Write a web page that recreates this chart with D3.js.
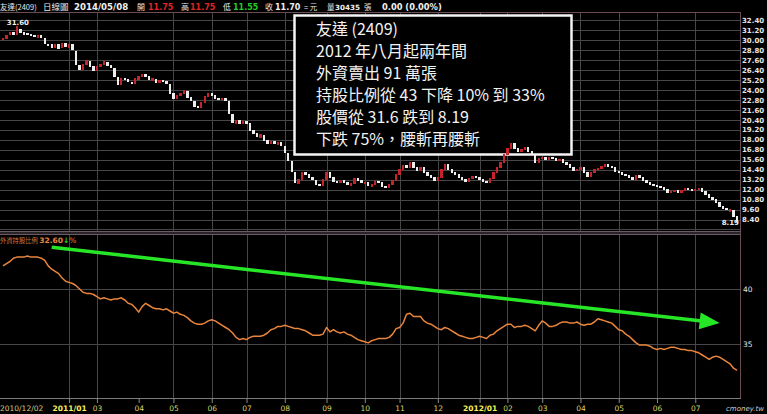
<!DOCTYPE html>
<html><head><meta charset="utf-8">
<script src="https://cdn.jsdelivr.net/npm/d3@7"></script>
<style>body{margin:0;background:#000;overflow:hidden}svg{display:block}</style>
</head><body><svg id="c" width="767" height="414"></svg>
<script>
const opens = [30.0,30.2,30.6,30.9,30.7,31.3,30.9,30.8,30.6,30.5,
30.3,30.5,30.2,29.5,29.4,29.1,29.4,29.1,29.6,29.1,
29.4,28.6,26.9,26.5,27.0,27.4,26.8,26.3,26.8,27.0,
27.3,26.9,26.6,25.5,24.7,25.4,25.2,24.9,24.8,25.3,
25.6,25.9,25.6,25.1,25.3,24.9,25.1,25.0,24.7,23.5,
22.9,23.3,23.5,23.8,23.1,22.6,22.0,21.9,22.5,23.2,
23.5,23.3,23.0,22.8,23.0,22.6,21.0,20.0,20.3,19.9,
20.2,19.9,19.1,18.8,18.3,18.5,17.9,17.5,17.8,17.4,
17.7,17.2,16.4,15.4,14.1,12.7,13.2,14.0,13.8,13.5,
13.1,12.6,12.5,13.2,14.0,13.4,13.0,12.8,13.1,12.9,
12.5,12.7,13.3,13.1,12.7,12.9,12.4,12.6,13.0,12.9,
12.4,12.2,12.6,13.1,13.8,14.4,14.9,14.7,15.2,14.6,
14.3,14.6,14.0,13.7,13.4,13.1,13.5,14.4,15.0,14.4,
14.0,13.8,13.5,13.2,13.0,13.3,13.6,13.5,13.2,13.0,
12.9,13.3,14.0,14.6,15.3,16.2,16.9,17.6,16.9,16.6,
16.8,17.1,16.6,16.1,15.3,15.7,15.9,15.6,15.8,15.7,
15.5,15.6,15.2,15.0,14.7,14.3,14.4,14.7,14.0,13.6,
14.1,14.4,14.5,14.8,15.0,14.8,14.6,14.2,14.0,13.8,
13.7,13.5,13.2,13.7,13.4,13.1,12.8,12.6,12.5,12.4,
12.3,12.0,11.6,11.8,11.9,11.7,11.9,12.1,12.0,11.9,
12.0,12.1,11.8,11.4,11.0,10.8,10.5,10.0,9.7,9.4,
9.5,8.8];
const closes = [30.2,30.5,30.9,30.6,31.6,30.9,30.7,30.6,30.5,30.4,
30.5,30.3,29.6,29.3,29.1,29.5,29.0,29.6,29.2,29.4,
28.8,27.0,26.4,27.0,27.5,26.8,26.3,26.8,27.0,27.4,
26.9,26.7,25.6,24.6,25.4,25.2,25.0,24.8,25.4,25.6,
25.9,25.6,25.2,25.4,24.9,25.1,25.0,24.8,23.6,22.9,
23.3,23.6,23.9,23.1,22.7,22.0,21.9,22.5,23.2,23.5,
23.3,23.0,22.9,23.0,22.7,21.2,20.1,20.3,19.9,20.2,
20.0,19.1,18.8,18.4,18.6,17.9,17.6,17.8,17.5,17.7,
17.3,16.5,15.5,14.2,12.9,13.2,14.0,13.8,13.5,13.2,
12.6,12.5,13.2,14.1,13.4,13.0,12.8,13.1,12.9,12.6,
12.7,13.3,13.1,12.8,12.9,12.5,12.6,13.0,12.9,12.4,
12.3,12.6,13.1,13.8,14.4,14.9,14.7,15.2,14.6,14.3,
14.6,14.0,13.7,13.4,13.1,13.5,14.4,15.0,14.4,14.0,
13.8,13.5,13.2,13.0,13.3,13.6,13.5,13.2,13.0,12.9,
13.3,14.0,14.6,15.3,16.2,16.9,17.5,16.9,16.6,16.8,
17.1,16.6,16.2,15.3,15.7,15.9,15.6,15.8,15.7,15.5,
15.6,15.2,15.0,14.7,14.3,14.4,14.7,14.0,13.6,14.1,
14.4,14.5,14.8,15.0,14.8,14.6,14.2,14.0,13.8,13.7,
13.5,13.2,13.7,13.4,13.1,12.8,12.6,12.5,12.4,12.3,
12.0,11.6,11.8,11.9,11.7,11.9,12.1,12.0,11.9,12.0,
12.1,11.8,11.4,11.0,10.8,10.5,10.0,9.7,9.6,9.6,
8.8,8.19];
const holding = [42.1,42.3,42.5,42.8,42.9,42.9,42.9,43.0,42.9,42.9,
42.9,42.8,42.6,42.1,41.8,41.6,41.4,41.0,40.7,40.6,
40.5,40.3,40.0,39.7,39.6,39.6,39.5,39.3,39.1,39.2,
39.1,39.0,39.1,39.1,39.2,39.0,38.7,38.6,38.3,37.9,
38.4,38.7,38.5,38.3,38.2,38.2,38.1,38.2,38.0,37.8,
37.9,37.7,37.6,37.4,37.1,36.9,36.8,36.8,36.9,37.1,
37.2,37.1,36.9,36.7,36.5,36.3,36.0,35.6,35.4,35.5,
35.4,35.6,35.7,35.7,35.7,35.8,36.0,36.3,36.4,36.6,
36.6,36.7,36.6,36.5,36.4,36.4,36.3,36.2,36.0,35.8,
35.8,35.8,35.9,36.5,36.1,36.3,36.1,36.0,36.1,35.9,
35.8,35.6,35.4,35.3,35.2,35.1,35.3,35.4,35.5,35.5,
35.5,35.6,35.9,36.4,36.5,36.9,37.7,37.8,37.5,37.5,
37.5,37.1,36.9,36.8,36.6,36.4,36.3,36.5,36.4,36.2,
36.0,35.8,35.7,35.6,35.5,35.5,35.6,35.7,35.6,35.5,
35.8,35.9,36.2,36.4,36.6,36.8,36.8,36.5,36.6,36.6,
36.7,36.6,36.4,36.2,36.7,37.1,36.9,36.6,36.6,36.7,
36.9,37.0,37.0,36.9,36.9,37.0,36.8,36.7,36.8,36.8,
37.0,37.3,37.2,37.1,37.0,36.9,36.6,36.3,36.2,35.9,
35.7,35.4,35.1,34.9,34.9,34.9,34.8,34.6,34.5,34.6,
34.5,34.6,34.7,34.7,34.6,34.5,34.5,34.4,34.4,34.3,
34.2,34.0,33.8,33.6,33.8,33.9,33.8,33.6,33.4,33.2,
32.8,32.6];
const priceTicks = [32.4,31.2,30.0,28.8,27.6,26.4,25.2,24.0,22.8,21.6,20.4,19.2,18.0,16.8,15.6,14.4,13.2,12.0,10.8,9.6,8.4];
const priceGrid = priceTicks.concat([7.2]);
const holdTicks = [40, 35];
const holdGrid = [40, 35];
const monthIdx = [19,27,39,49,60,70,81,93,104,114,125,137,145,155,166,177,188,199];
const monthLabels = ["2011/01","03","04","05","06","07","08","09","10","11","12","2012/01","02","03","04","05","06","07"];
const monthGridOn = [1,1,0,1,1,1,1,1,1,1,1,1,1,1,1,1,1,1];
const firstDate = "2010/12/02";
const peakIdx = 4, peakLabel = "31.60";
const lowLabel = "8.19";
const noteLines = ["友達 (2409)","2012 年八月起兩年間","外資賣出 91 萬張","持股比例從 43 下降 10% 到 33%","股價從 31.6 跌到 8.19","下跌 75%，腰斬再腰斬"];
const arrowFrom = [14, 43.8], arrowTo = [206, 36.9];

const svg = d3.select("#c");
svg.append("rect").attr("width",767).attr("height",414).attr("fill","#000");
const N = closes.length;
const x = d3.scaleLinear().domain([0, N-1]).range([3, 737]);
const yP = d3.scaleLinear().domain([8.4, 32.4]).range([219.5, 20]);
const yH = d3.scaleLinear().domain([35, 40]).range([344, 289]);
const gridC = "#474747", frameC = "#6b4c50";

// grids
const g = svg.append("g").attr("shape-rendering","crispEdges");
g.selectAll(".hp").data(priceGrid).join("line")
  .attr("x1",0).attr("x2",740).attr("y1",d=>Math.round(yP(d))+0.5).attr("y2",d=>Math.round(yP(d))+0.5)
  .attr("stroke",gridC);
g.selectAll(".hh").data(holdGrid).join("line")
  .attr("x1",0).attr("x2",740).attr("y1",d=>Math.round(yH(d))+0.5).attr("y2",d=>Math.round(yH(d))+0.5)
  .attr("stroke",gridC);
const vg = monthIdx.filter((d,i)=>monthGridOn[i]);
g.selectAll(".vt").data(vg).join("line")
  .attr("x1",d=>Math.round(x(d))+0.5).attr("x2",d=>Math.round(x(d))+0.5).attr("y1",13).attr("y2",231)
  .attr("stroke",gridC);
g.selectAll(".vb").data(vg).join("line")
  .attr("x1",d=>Math.round(x(d))+0.5).attr("x2",d=>Math.round(x(d))+0.5).attr("y1",235).attr("y2",398)
  .attr("stroke",gridC);

// note box
svg.append("rect").attr("x",294.5).attr("y",15.5).attr("width",277).attr("height",139)
  .attr("fill","#000").attr("stroke","#f4f4f4").attr("stroke-width",2.5);
svg.append("g").selectAll("text").data(noteLines).join("text")
  .attr("x",316).attr("y",(d,i)=>35+i*21.9)
  .attr("font-family","'Noto Sans CJK TC','Noto Sans',sans-serif").attr("font-size",16)
  .attr("fill","#f2f2f2").text(d=>d);

// candles
const cg = svg.append("g").attr("shape-rendering","crispEdges");
cg.selectAll("rect").data(closes).join("rect")
  .attr("x",(d,i)=>x(i)-1.2).attr("width",2.4)
  .attr("y",(d,i)=>yP(Math.max(d,opens[i]))-0.5)
  .attr("height",(d,i)=>Math.max(2,Math.abs(yP(opens[i])-yP(d))+1))
  .attr("fill",(d,i)=>d>opens[i]?"#c4242a":"#eeeeee");

svg.append("text").attr("x",x(peakIdx)+1).attr("y",yP(31.6)-2).attr("text-anchor","middle")
  .attr("font-family","DejaVu Sans").attr("font-weight","bold").attr("font-size",7).attr("fill","#eee").text(peakLabel);
svg.append("text").attr("x",x(N-1)+2).attr("y",yP(8.19)+3.5).attr("text-anchor","end")
  .attr("font-family","DejaVu Sans").attr("font-weight","bold").attr("font-size",7).attr("fill","#eee").text(lowLabel);

// frames
const fr = svg.append("g").attr("shape-rendering","crispEdges").attr("stroke",frameC).attr("fill","none");
fr.append("line").attr("x1",0).attr("x2",740.5).attr("y1",12.5).attr("y2",12.5);
fr.append("line").attr("x1",740.5).attr("x2",740.5).attr("y1",12.5).attr("y2",398.5);
fr.append("rect").attr("x",0).attr("y",232).attr("width",740).attr("height",2).attr("fill","#2a2428").attr("stroke","none");
fr.append("line").attr("x1",0).attr("x2",740.5).attr("y1",231.5).attr("y2",231.5).attr("stroke","#6a5a66");
fr.append("line").attr("x1",0).attr("x2",740.5).attr("y1",234.5).attr("y2",234.5).attr("stroke","#6a5a66");
fr.append("line").attr("x1",0).attr("x2",740.5).attr("y1",398.5).attr("y2",398.5).attr("stroke","#7a7a7a");

// right axes
const ap = svg.append("g").attr("transform","translate(740,0)")
  .call(d3.axisRight(yP).tickValues(priceTicks).tickFormat(d3.format(".2f")).tickSize(0).tickPadding(2));
ap.select(".domain").remove();
ap.selectAll("text").attr("font-family","DejaVu Sans").attr("font-weight","bold").attr("font-size",7).attr("fill","#e6e6e6");
const ah = svg.append("g").attr("transform","translate(740,0)")
  .call(d3.axisRight(yH).tickValues(holdTicks).tickFormat(d3.format("d")).tickSize(0).tickPadding(3));
ah.select(".domain").remove();
ah.selectAll("text").attr("font-family","DejaVu Sans").attr("font-size",7.5).attr("fill","#e6e6e6");

// bottom axis
const ax = svg.append("g").attr("transform","translate(0,398)")
  .call(d3.axisBottom(x).tickValues(monthIdx).tickFormat((d,i)=>monthLabels[i]).tickSize(5).tickPadding(3));
ax.select(".domain").remove();
ax.selectAll("line").attr("stroke","#8a8a8a");
ax.selectAll("text").attr("font-family","DejaVu Sans").attr("font-size",7.5)
  .attr("font-weight",d=>monthLabels[monthIdx.indexOf(d)].length>2?"bold":"normal")
  .attr("fill",d=>monthLabels[monthIdx.indexOf(d)].length>2?"#f4f25a":"#d8d46a");
svg.append("text").attr("x",0).attr("y",411).attr("font-family","DejaVu Sans").attr("font-size",7.5)
  .attr("fill","#cfcb8a").text(firstDate);
svg.append("text").attr("x",764).attr("y",411).attr("text-anchor","end").attr("font-family","DejaVu Sans")
  .attr("font-style","italic").attr("font-size",7).attr("fill","#cfcfcf").text("cmoney.tw");

// holding line
svg.append("path").datum(holding)
  .attr("d",d3.line().x((d,i)=>x(i)).y(d=>yH(d)))
  .attr("fill","none").attr("stroke","#e9853c").attr("stroke-width",1.5).attr("stroke-linejoin","round");

// holding label
const hl = svg.append("text").attr("x",0).attr("y",243).attr("font-family","'Noto Sans CJK TC',sans-serif").attr("font-size",6.3);
hl.append("tspan").attr("fill","#d9793a").text("外資持股比例 ");
hl.append("tspan").attr("fill","#e9853c").attr("font-family","DejaVu Sans").attr("font-weight","bold").attr("font-size",7.5).text(d3.format(".2f")(holding[N-1]));
hl.append("tspan").attr("fill","#2fd82f").attr("font-family","DejaVu Sans").attr("font-weight","bold").attr("font-size",7.5).text("↓");
hl.append("tspan").attr("fill","#e9853c").attr("font-family","DejaVu Sans").attr("font-size",7.5).text("%");

// green arrow
const ax0 = x(arrowFrom[0]), ay0 = yH(arrowFrom[1]), ax1 = x(arrowTo[0]), ay1 = yH(arrowTo[1]);
const dx = ax1-ax0, dy = ay1-ay0, L = Math.hypot(dx,dy), ux = dx/L, uy = dy/L;
const hlen = 20, hw = 8.5;
const bx = ax1-ux*hlen, by = ay1-uy*hlen;
svg.append("line").attr("x1",ax0).attr("y1",ay0).attr("x2",bx+ux*2).attr("y2",by+uy*2)
  .attr("stroke","#27e627").attr("stroke-width",3.5);
svg.append("path").attr("d",`M${ax1},${ay1}L${bx-uy*hw},${by+ux*hw}L${bx+uy*hw},${by-ux*hw}Z`).attr("fill","#27e627");

// header
const hdr = [
  {t:"友達(2409)",x:0,c:"#e8e8e8",f:"'Noto Sans CJK TC',sans-serif",s:7.5,w:"normal"},
  {t:"日線圖",x:43,c:"#e8e8e8",f:"'Noto Sans CJK TC',sans-serif",s:8.5,w:"normal"},
  {t:"2014/05/08",x:74,c:"#f0f0f0",f:"DejaVu Sans",s:8.6,w:"bold"},
  {t:"開",x:137,c:"#e8e8e8",f:"'Noto Sans CJK TC',sans-serif",s:8,w:"normal"},
  {t:"11.75",x:148,c:"#e02424",f:"DejaVu Sans",s:8,w:"bold"},
  {t:"高",x:181,c:"#e8e8e8",f:"'Noto Sans CJK TC',sans-serif",s:8,w:"normal"},
  {t:"11.75",x:190,c:"#e02424",f:"DejaVu Sans",s:8,w:"bold"},
  {t:"低",x:223,c:"#e8e8e8",f:"'Noto Sans CJK TC',sans-serif",s:8,w:"normal"},
  {t:"11.55",x:233,c:"#22cc22",f:"DejaVu Sans",s:8,w:"bold"},
  {t:"收",x:265,c:"#e8e8e8",f:"'Noto Sans CJK TC',sans-serif",s:8,w:"normal"},
  {t:"11.70",x:275,c:"#f0f0f0",f:"DejaVu Sans",s:8,w:"bold"},
  {t:"= 元",x:304,c:"#e8e8e8",f:"'Noto Sans CJK TC',sans-serif",s:7.5,w:"normal"},
  {t:"量",x:327,c:"#e8e8e8",f:"'Noto Sans CJK TC',sans-serif",s:7.5,w:"normal"},
  {t:"30435",x:335,c:"#f0f0f0",f:"DejaVu Sans",s:7.2,w:"bold"},
  {t:"張",x:364,c:"#e8e8e8",f:"'Noto Sans CJK TC',sans-serif",s:7.5,w:"normal"},
  {t:"0.00 (0.00%)",x:382,c:"#f0f0f0",f:"DejaVu Sans",s:8.3,w:"bold"}
];
svg.append("g").selectAll("text").data(hdr).join("text")
  .attr("x",d=>d.x).attr("y",10).attr("font-family",d=>d.f).attr("font-size",d=>d.s)
  .attr("font-weight",d=>d.w).attr("fill",d=>d.c).text(d=>d.t);
</script></body></html>
